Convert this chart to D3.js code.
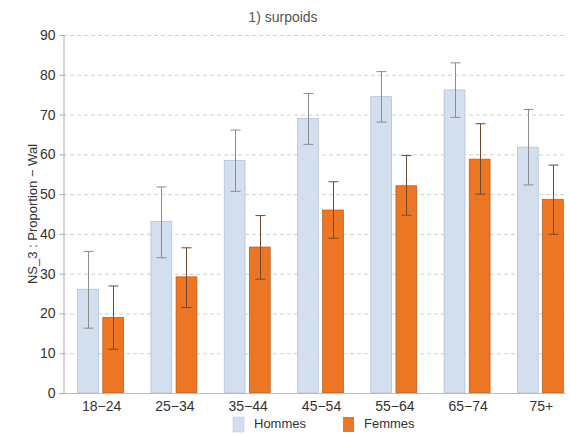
<!DOCTYPE html>
<html lang="fr">
  <head>
    <meta charset="UTF-8" />
    <title>surpoids</title>
    <style>
      body { margin: 0; background: #fff; }
      text { font-family: "Liberation Sans", Arial, sans-serif; }
    </style>
  </head>
  <body>
    <div class="chart"></div>
    <script src="https://cdn.jsdelivr.net/npm/d3@7"></script>
    <script>
    var ageGroups = ["18-24", "25-34", "35-44", "45-54", "55-64", "65-74", "75+"];
    var ageLabels = ["18\u221224", "25\u221234", "35\u221244", "45\u221254", "55\u221264", "65\u221274", "75+"];
    var series = ["Hommes", "Femmes"];

    var hommes     = [26.1, 43.1, 58.5, 69.0, 74.5, 76.2, 61.8];
    var hommesLow  = [16.3, 34.0, 50.7, 62.5, 68.1, 69.3, 52.3];
    var hommesHigh = [35.6, 51.8, 66.1, 75.3, 80.8, 83.0, 71.3];

    var femmes     = [19.0, 29.2, 36.7, 46.0, 52.1, 58.8, 48.7];
    var femmesLow  = [11.0, 21.5, 28.6, 38.9, 44.7, 50.0, 39.9];
    var femmesHigh = [26.9, 36.5, 44.6, 53.1, 59.7, 67.7, 57.3];

    var yTicks = [0, 10, 20, 30, 40, 50, 60, 70, 80, 90];

    var w = 570, h = 434;
    var colors = { Hommes: "#d3dfee", Femmes: "#ec7623" };
    var strokes = { Hommes: "#b0bccd", Femmes: "#b85a1c" };

    var svg = d3.select(".chart").append("svg")
                .attr("width", w)
                .attr("height", h);

    var x = d3.scaleBand().domain(ageGroups).range([63, 576]);
    var xs = d3.scaleBand().domain(series).range([-22, 24]).paddingInner(0.17);
    var y = d3.scaleLinear().domain([0, 90]).range([393, 35]);

    var rows = [];
    ageGroups.forEach(function(g, i) {
      rows.push({ g: g, s: "Hommes", v: hommes[i], lo: hommesLow[i], hi: hommesHigh[i] });
      rows.push({ g: g, s: "Femmes", v: femmes[i], lo: femmesLow[i], hi: femmesHigh[i] });
    });

    // grid
    svg.selectAll("line.grid")
       .data(yTicks.slice(1))
       .enter().append("line")
       .attr("class", "grid")
       .attr("x1", 63).attr("x2", 566)
       .attr("y1", function(d) { return y(d) + 0.5; })
       .attr("y2", function(d) { return y(d) + 0.5; })
       .attr("stroke", "#cfcfcf")
       .attr("stroke-dasharray", "4,3");

    // y axis
    var yAxis = svg.append("g")
       .attr("transform", "translate(63.5,0)")
       .call(d3.axisLeft(y).tickValues(yTicks).tickSize(4).tickPadding(4));
    yAxis.select(".domain").attr("stroke", "#aaa");
    yAxis.selectAll(".tick line").attr("stroke", "#aaa");
    yAxis.selectAll("text").attr("font-size", 14).attr("fill", "#333")
         .attr("font-family", "'Liberation Sans', Arial, sans-serif");

    // bars
    svg.selectAll("rect.bar")
       .data(rows)
       .enter().append("rect")
       .attr("class", "bar")
       .attr("x", function(d) { return x(d.g) + x.bandwidth() / 2 + xs(d.s); })
       .attr("y", function(d) { return y(d.v); })
       .attr("width", xs.bandwidth())
       .attr("height", function(d) { return y(0) - y(d.v); })
       .attr("fill", function(d) { return colors[d.s]; })
       .attr("stroke", function(d) { return strokes[d.s]; })
       .attr("stroke-width", 0.7);

    // error bars
    var eb = svg.selectAll("g.err")
       .data(rows)
       .enter().append("g")
       .attr("class", "err")
       .attr("stroke", function(d) { return d.s == "Hommes" ? "#8c8c8c" : "#6e4a30"; })
       .attr("stroke-width", 1);
    function cx(d) { return Math.round(x(d.g) + x.bandwidth() / 2 + xs(d.s) + xs.bandwidth() / 2) + 0.5; }
    eb.append("line")
      .attr("x1", cx).attr("x2", cx)
      .attr("y1", function(d) { return y(d.hi); })
      .attr("y2", function(d) { return y(d.lo); });
    eb.append("line")
      .attr("x1", function(d) { return cx(d) - 5; }).attr("x2", function(d) { return cx(d) + 5; })
      .attr("y1", function(d) { return y(d.hi); }).attr("y2", function(d) { return y(d.hi); });
    eb.append("line")
      .attr("x1", function(d) { return cx(d) - 5; }).attr("x2", function(d) { return cx(d) + 5; })
      .attr("y1", function(d) { return y(d.lo); }).attr("y2", function(d) { return y(d.lo); });

    // x axis
    var xAxis = svg.append("g")
       .attr("transform", "translate(0,393.5)")
       .call(d3.axisBottom(x).tickSize(0).tickPadding(8)
               .tickFormat(function(d, i) { return ageLabels[i]; }));
    xAxis.select(".domain").attr("stroke", "#bbb").attr("d", "M63,0H566");
    xAxis.selectAll("text").attr("font-size", 14).attr("fill", "#333")
         .attr("dx", 2)
         .attr("font-family", "'Liberation Sans', Arial, sans-serif");

    // title
    svg.append("text")
       .attr("x", 283).attr("y", 22)
       .attr("text-anchor", "middle")
       .attr("font-size", 14)
       .attr("fill", "#555")
       .text("1) surpoids");

    // y label
    svg.append("text")
       .attr("transform", "translate(37,214) rotate(-90)")
       .attr("text-anchor", "middle")
       .attr("font-size", 13)
       .attr("fill", "#333")
       .text("NS_3 : Proportion \u2212 Wal");

    // legend
    var legend = svg.selectAll("g.legend")
       .data(series)
       .enter().append("g")
       .attr("class", "legend")
       .attr("transform", function(d, i) { return "translate(" + (233 + i * 110) + ",417)"; });
    legend.append("rect")
       .attr("width", 11).attr("height", 15)
       .attr("fill", function(d) { return colors[d]; })
       .attr("stroke", function(d) { return d == "Hommes" ? "#c0cad8" : "none"; })
       .attr("stroke-width", 0.6);
    legend.append("text")
       .attr("x", 21).attr("y", 11)
       .attr("font-size", 13)
       .attr("fill", "#333")
       .text(function(d) { return d; });
    </script>
  </body>
</html>
